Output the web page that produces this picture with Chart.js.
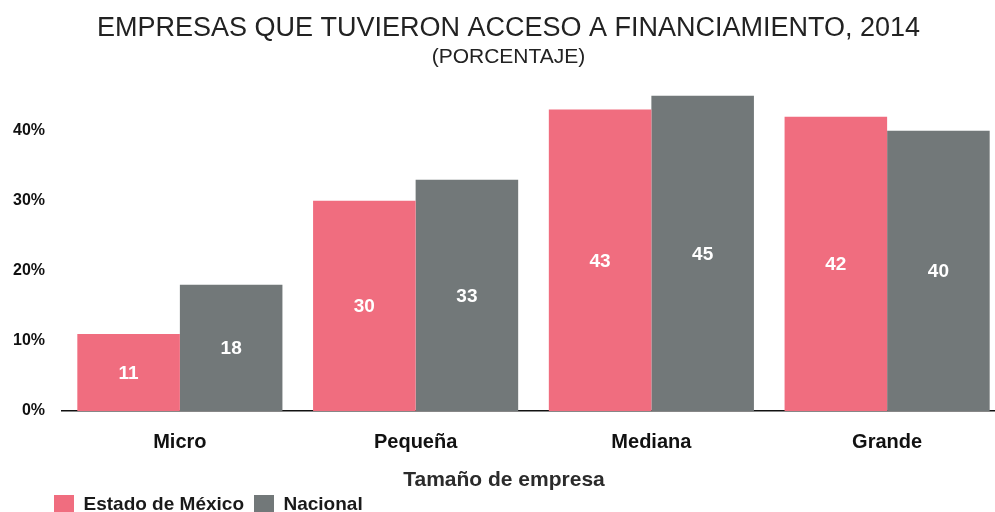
<!DOCTYPE html>
<html>
<head>
<meta charset="utf-8">
<script src="https://cdn.jsdelivr.net/npm/chart.js@4.4.0/dist/chart.umd.min.js"></script>
<style>
  html, body { margin: 0; padding: 0; overflow: hidden; background: #fff; }
  #wrap { width: 1014px; height: 525px; }
</style>
</head>
<body>
<div id="wrap"><canvas id="barchart" width="1014" height="525"></canvas></div>
<script>
const categories = ['Micro', 'Pequeña', 'Mediana', 'Grande'];
const estadoMexico = [11, 30, 43, 42];
const nacional = [18, 33, 45, 40];
const yTicks = [0, 10, 20, 30, 40];

const FONT = '"Helvetica Neue", "Liberation Sans", Arial, sans-serif';
const PINK = '#F06D7F';
const GRAY = '#727879';

// white numbers in the middle of each bar
const barLabels = {
    id: 'barLabels',
    afterDatasetsDraw(chart) {
        const ctx = chart.ctx;
        ctx.save();
        ctx.font = 'bold 19px ' + FONT;
        ctx.fillStyle = '#ffffff';
        ctx.textAlign = 'center';
        ctx.textBaseline = 'middle';
        chart.data.datasets.forEach((ds, i) => {
            chart.getDatasetMeta(i).data.forEach((bar, j) => {
                ctx.fillText(ds.data[j], bar.x, (bar.y + bar.base) / 2 + 1);
            });
        });
        ctx.restore();
    }
};

// axis title is centred on the page, not on the plot area
const xTitle = {
    id: 'xTitle',
    afterDraw(chart) {
        const ctx = chart.ctx;
        ctx.save();
        ctx.font = 'bold 21px ' + FONT;
        ctx.fillStyle = '#2b2b2b';
        ctx.textAlign = 'center';
        ctx.textBaseline = 'middle';
        ctx.fillText('Tamaño de empresa', 504, chart.legend.top - 5);
        ctx.restore();
    }
};

// push the legend right so it lines up under the axis
const legendShift = {
    id: 'legendShift',
    afterLayout(chart) {
        chart.legend.left += 32;
    }
};

new Chart(document.getElementById('barchart'), {
    type: 'bar',
    data: {
        labels: categories,
        datasets: [
            {
                label: 'Estado de México',
                data: estadoMexico,
                backgroundColor: PINK,
                borderWidth: 0
            },
            {
                label: 'Nacional',
                data: nacional,
                backgroundColor: GRAY,
                borderWidth: 0
            }
        ]
    },
    options: {
        responsive: false,
        animation: false,
        categoryPercentage: 0.87,
        barPercentage: 1.0,
        layout: { padding: { left: 12, right: 9, top: 0, bottom: 0 } },
        plugins: {
            title: {
                display: true,
                text: 'EMPRESAS QUE TUVIERON ACCESO A FINANCIAMIENTO, 2014',
                color: '#222',
                font: { family: FONT, size: 27, weight: 'normal' },
                padding: { top: 12, bottom: 0 }
            },
            subtitle: {
                display: true,
                text: '(PORCENTAJE)',
                color: '#222',
                font: { family: FONT, size: 21, weight: 'normal' },
                padding: { top: 0, bottom: 26 }
            },
            legend: {
                position: 'bottom',
                align: 'start',
                labels: {
                    boxWidth: 20,
                    boxHeight: 20,
                    padding: 10,
                    color: '#1a1a1a',
                    font: { family: FONT, size: 19, weight: 'bold' }
                }
            },
            tooltip: { enabled: false }
        },
        scales: {
            x: {
                grid: { display: false, drawTicks: false },
                border: { display: true, color: '#111', width: 1.5 },
                afterFit: s => { s.height = 74; },
                ticks: {
                    color: '#111',
                    padding: 19,
                    font: { family: FONT, size: 20, weight: 'bold' }
                }
            },
            y: {
                min: 0,
                max: 45,
                grid: { display: false, drawTicks: false },
                border: { display: false },
                afterBuildTicks: s => { s.ticks = yTicks.map(v => ({ value: v })); },
                afterFit: s => { s.width = 50; },
                ticks: {
                    color: '#111',
                    padding: 17,
                    font: { family: FONT, size: 16, weight: 'bold' },
                    callback: v => v + '%'
                }
            }
        }
    },
    plugins: [barLabels, xTitle, legendShift]
});
</script>
</body>
</html>
